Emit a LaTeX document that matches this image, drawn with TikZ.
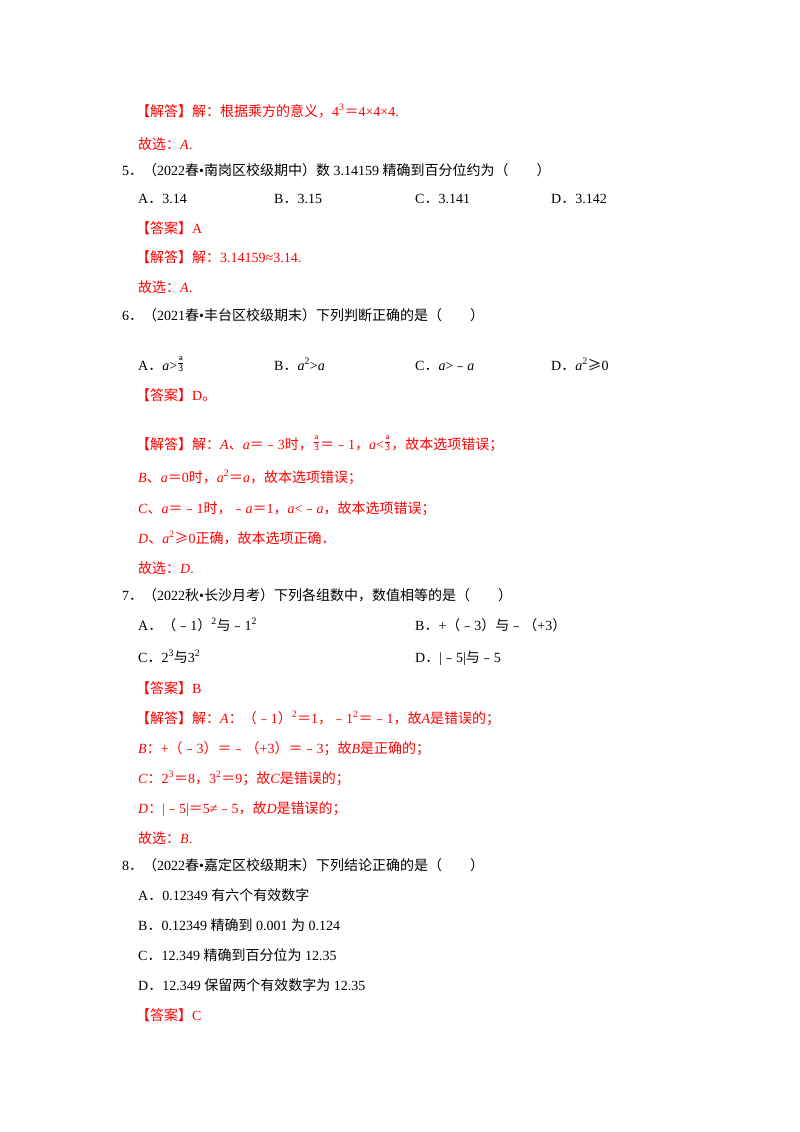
\documentclass[tikz,border=0pt]{standalone}
\usepackage{amsmath}
\usepackage{fontspec}
\setmainfont{Liberation Serif}
\newfontfamily\cjk{Noto Sans CJK SC}
\newcommand\z[1]{{\cjk #1}}
\newcommand\frA{\raisebox{0.55ex}{$\genfrac{}{}{0.6pt}{}{\textsf{\small a}}{\textsf{3}}$}}
\definecolor{ans}{RGB}{255,0,0}
\tikzset{txt/.style={anchor=base west,inner sep=0pt,font=\fontsize{14}{17}\selectfont},
 red/.style={txt,text=ans}}
\begin{document}
\begin{tikzpicture}[x=1pt,y=-1pt]
\useasboundingbox (0,0) rectangle (800,1132);
\fill[white] (0,0) rectangle (800,1132);
\node[red] (l1) at (136,116) {\z{【解答】解：根据乘方的意义，}4\textsuperscript{3}\z{＝}4×4×4.};
\node[red] (l2) at (138,149) {\z{故选：}\textit{A}.};
\node[txt] (q5) at (122,175) {5\z{．（}2022\z{春}•\z{南岗区校级期中）数} 3.14159 \z{精确到百分位约为（\quad\quad）}};
\node[txt] (q5a) at (138,203) {A\z{．}3.14};
\node[txt] (q5b) at (274,203) {B\z{．}3.15};
\node[txt] (q5c) at (415,203) {C\z{．}3.141};
\node[txt] (q5d) at (551,203) {D\z{．}3.142};
\node[red] (q5ans) at (136,233) {\z{【答案】}A};
\node[red] (q5j) at (136,262) {\z{【解答】解：}3.14159≈3.14.};
\node[red] (q5g) at (138,292) {\z{故选：}\textit{A}.};
\node[txt] (q6) at (122,320) {6\z{．（}2021\z{春}•\z{丰台区校级期末）下列判断正确的是（\quad\quad）}};
\node[txt] (q6a) at (138,370) {A\z{．}\textit{a}>\frA};
\node[txt] (q6b) at (274,370) {B\z{．}\textit{a}\textsuperscript{2}>\textit{a}};
\node[txt] (q6c) at (415,370) {C\z{．}\textit{a}>\z{﹣}\textit{a}};
\node[txt] (q6d) at (551,370) {D\z{．}\textit{a}\textsuperscript{2}\z{≥}0};
\node[red] (q6ans) at (136,400) {\z{【答案】}D\z{。}};
\node[red] (q6j) at (136,449) {\z{【解答】解：}\textit{A}\z{、}\textit{a}\z{＝﹣}3\z{时，}\frA\z{＝﹣}1\z{，}\textit{a}<\frA\z{，故本选项错误；}};
\node[red] (q6b2) at (138,482) {\textit{B}\z{、}\textit{a}\z{＝}0\z{时，}\textit{a}\textsuperscript{2}\z{＝}\textit{a}\z{，故本选项错误；}};
\node[red] (q6c2) at (138,513) {\textit{C}\z{、}\textit{a}\z{＝﹣}1\z{时，﹣}\textit{a}\z{＝}1\z{，}\textit{a}<\z{﹣}\textit{a}\z{，故本选项错误；}};
\node[red] (q6d2) at (138,543) {\textit{D}\z{、}\textit{a}\textsuperscript{2}\z{≥}0\z{正确，故本选项正确．}};
\node[red] (q6g) at (138,573) {\z{故选：}\textit{D}.};
\node[txt] (q7) at (122,600) {7\z{．（}2022\z{秋}•\z{长沙月考）下列各组数中，数值相等的是（\quad\quad）}};
\node[txt] (q7a) at (138,630) {A\z{．（﹣}1\z{）}\textsuperscript{2}\z{与﹣}1\textsuperscript{2}};
\node[txt] (q7b) at (415,630) {B\z{．}+\z{（﹣}3\z{）与﹣（}+3\z{）}};
\node[txt] (q7c) at (138,662) {C\z{．}2\textsuperscript{3}\z{与}3\textsuperscript{2}};
\node[txt] (q7d) at (415,662) {D\z{．}|\z{﹣}5|\z{与﹣}5};
\node[red] (q7ans) at (136,693) {\z{【答案】}B};
\node[red] (q7j) at (136,723) {\z{【解答】解：}\textit{A}\z{：（﹣}1\z{）}\textsuperscript{2}\z{＝}1\z{，﹣}1\textsuperscript{2}\z{＝﹣}1\z{，故}\textit{A}\z{是错误的；}};
\node[red] (q7b2) at (138,753) {\textit{B}\z{：}+\z{（﹣}3\z{）＝﹣（}+3\z{）＝﹣}3\z{；故}\textit{B}\z{是正确的；}};
\node[red] (q7c2) at (138,783) {\textit{C}\z{：}2\textsuperscript{3}\z{＝}8\z{，}3\textsuperscript{2}\z{＝}9\z{；故}\textit{C}\z{是错误的；}};
\node[red] (q7d2) at (138,813) {\textit{D}\z{：}|\z{﹣}5|\z{＝}5≠\z{﹣}5\z{，故}\textit{D}\z{是错误的；}};
\node[red] (q7g) at (138,843) {\z{故选：}\textit{B}.};
\node[txt] (q8) at (122,870) {8\z{．（}2022\z{春}•\z{嘉定区校级期末）下列结论正确的是（\quad\quad）}};
\node[txt] (q8a) at (138,900) {A\z{．}0.12349 \z{有六个有效数字}};
\node[txt] (q8b) at (138,930) {B\z{．}0.12349 \z{精确到} 0.001 \z{为} 0.124};
\node[txt] (q8c) at (138,960) {C\z{．}12.349 \z{精确到百分位为} 12.35};
\node[txt] (q8d) at (138,990) {D\z{．}12.349 \z{保留两个有效数字为} 12.35};
\node[red] (q8ans) at (136,1020) {\z{【答案】}C};
\end{tikzpicture}
\end{document}
